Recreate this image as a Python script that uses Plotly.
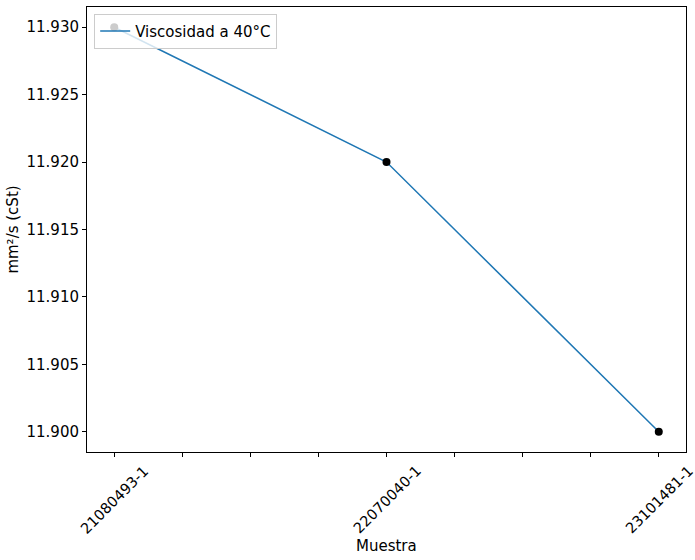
import plotly.graph_objects as go

muestras = ["21080493-1", "22070040-1", "23101481-1"]
viscosidad = [11.930, 11.920, 11.900]
x_pos = [0, 1, 2]
tick_vals = [0, 0.25, 0.5, 0.75, 1, 1.25, 1.5, 1.75, 2]
y_ticks = [11.900, 11.905, 11.910, 11.915, 11.920, 11.925, 11.930]

fig = go.Figure()
fig.add_trace(go.Scatter(x=x_pos, y=viscosidad, mode="lines", name="Viscosidad a 40°C",
                         line=dict(color="#1f77b4", width=1.5)))
fig.add_trace(go.Scatter(x=x_pos, y=viscosidad, mode="markers", showlegend=False,
                         marker=dict(color="black", size=8)))

# Category labels centred under their ticks, rotated 45 degrees
for xp, label in zip(x_pos, muestras):
    fig.add_annotation(x=xp, y=0, xref="x", yref="paper", text=label, showarrow=False,
                       textangle=-45, xanchor="center", yanchor="top", yshift=-8,
                       font=dict(size=14.5, color="black"))

font = "DejaVu Sans, sans-serif"
fig.update_layout(
    width=695, height=560,
    margin=dict(l=87, r=9, t=7, b=108),
    paper_bgcolor="white", plot_bgcolor="white",
    font=dict(family=font, size=15, color="black"),
    legend=dict(x=0.012, y=0.985, xanchor="left", yanchor="top",
                bgcolor="rgba(255,255,255,0.8)", bordercolor="#cccccc", borderwidth=1,
                font=dict(size=15)),
    xaxis=dict(range=[-0.1, 2.1], tickvals=tick_vals, showticklabels=False,
               automargin=False,
               showgrid=False, zeroline=False, showline=True, linecolor="black", mirror=True,
               ticks="outside", ticklen=4, tickcolor="black"),
    yaxis=dict(range=[11.8985, 11.9315], tickvals=y_ticks, tickformat=".3f",
               automargin=False,
               showgrid=False, zeroline=False, showline=True, linecolor="black", mirror=True,
               ticks="outside", ticklen=4, tickcolor="black",
               title=dict(text="mm²/s (cSt)", font=dict(size=15), standoff=4)),
)
fig.add_annotation(x=0.5, y=0, xref="paper", yref="paper", text="Muestra", showarrow=False,
                   xanchor="center", yanchor="middle", yshift=-94,
                   font=dict(size=15, color="black"))
fig.write_html("out.html", post_script="document.body.style.margin='0';",
               config={"displayModeBar": False})
